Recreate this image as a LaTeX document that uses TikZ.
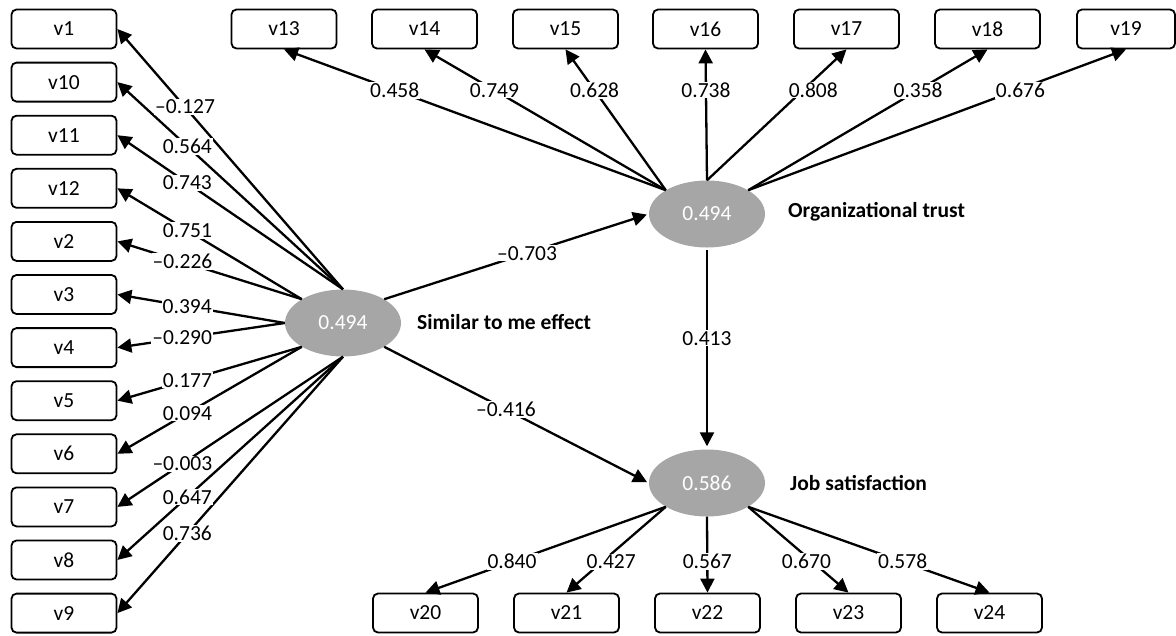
\documentclass[tikz,border=0pt]{standalone}
\usepackage{fontspec}
\setmainfont{Carlito}
\usetikzlibrary{arrows.meta,shapes.geometric}
\definecolor{latgray}{HTML}{A6A6A6}
\begin{document}
\begin{tikzpicture}[x=1pt,y=-1pt,
  every node/.style={font=\fontsize{21.5}{25}\selectfont},
  ind/.style={draw,line width=1.8pt,rounded corners=5pt,minimum width=105pt,minimum height=39pt,inner sep=0pt},
  lat/.style={ellipse,fill=latgray,minimum width=116pt,minimum height=67pt,inner sep=0pt,text=white},
  arr/.style={line width=2.3pt,-{Triangle[length=14pt,width=14pt]}},
  lbl/.style={fill=white,inner sep=1pt},
  lvname/.style={font=\fontsize{21.5}{25}\selectfont\bfseries,anchor=west,inner sep=0pt}
]
\useasboundingbox (0,0) rectangle (1176,635);

% left indicators
\foreach \n/\y in {v1/29,v10/82.1,v11/135.2,v12/188.3,v2/241.4,v3/294.5,v4/347.6,v5/400.7,v6/453.8,v7/506.9,v8/560,v9/613.1}
  \node[ind] (\n) at (64,\y) {\n};
% top indicators
\foreach \n/\x in {v13/284,v14/424.5,v15/565.5,v16/705.5,v17/846.5,v18/987.5}
  \node[ind] (\n) at (\x,29) {\n};
\node[ind,minimum width=98pt] (v19) at (1126,29) {v19};
% bottom indicators
\foreach \n/\x in {v20/425.5,v21/566.5,v22/707.5,v23/848.5,v24/989.5}
  \node[ind] (\n) at (\x,613) {\n};

% latent variables
\node[lat] (S) at (343,323) {0.494};
\node[lat] (O) at (707,214) {0.494};
\node[lat] (J) at (707,483) {0.586};
\node[lvname] (Sn) at (417,322) {Similar to me effect};
\node[lvname] (On) at (788,212) {Organizational trust};
\node[lvname] (Jn) at (790,483) {Job satisfaction};

% connectors
\foreach \t/\a in {v1/north,v10/north,v11/north,v12/150,v2/150,v3/west,v4/west,v5/210,v6/210,v7/south,v8/south,v9/south}
  \draw[arr] (S.\a) -- (\t.east);
\foreach \t/\a in {v13/150,v14/150,v15/150,v16/north,v17/north,v18/30,v19/30}
  \draw[arr] (O.\a) -- (\t.south);
\foreach \t/\a in {v20/210,v21/210,v22/south,v23/330,v24/330}
  \draw[arr] (J.\a) -- (\t.north);
\draw[arr,shorten >=2pt] (S.30) -- (O.west);
\draw[arr,shorten >=2pt] (S.330) -- (J.west);
\draw[arr,shorten <=2pt,shorten >=3pt] (O.south) -- (J.north);

% labels
\foreach \t/\a/\p/\l in {v1/north/0.70/{--0.127},v10/north/0.69/{0.564},v11/north/0.69/{0.743},v12/150/0.62/{0.751},v2/150/0.647/{--0.226},v3/west/0.583/{0.394},v4/west/0.613/{--0.290},v5/210/0.62/{0.177},v6/210/0.62/{0.094},v7/south/0.712/{--0.003},v8/south/0.69/{0.647},v9/south/0.69/{0.736}}
  \path (S.\a) -- (\t.east) node[lbl,pos=\p] {\l};
\foreach \t/\a/\p/\s/\l in {v13/150/0.71/0/{0.458},v14/150/0.71/0/{0.749},v15/150/0.71/0/{0.628},v16/north/0.69/0/{0.738},v17/north/0.69/10/{0.808},v18/30/0.71/0/{0.358},v19/30/0.71/4/{0.676}}
  \path (O.\a) -- (\t.south) node[lbl,pos=\p,xshift=\s] {\l};
\foreach \t/\a/\p/\s/\l in {v20/210/0.64/0/{0.840},v21/210/0.64/9/{0.427},v22/south/0.59/0/{0.567},v23/330/0.64/-6/{0.670},v24/330/0.64/0/{0.578}}
  \path (J.\a) -- (\t.north) node[lbl,pos=\p,xshift=\s] {\l};
\path (S.30) -- (O.west) node[lbl,pos=0.54] {--0.703};
\path (S.330) -- (J.west) node[lbl,pos=0.46] {--0.416};
\path (O.south) -- (J.north) node[lbl,pos=0.45] {0.413};
\end{tikzpicture}
\end{document}
